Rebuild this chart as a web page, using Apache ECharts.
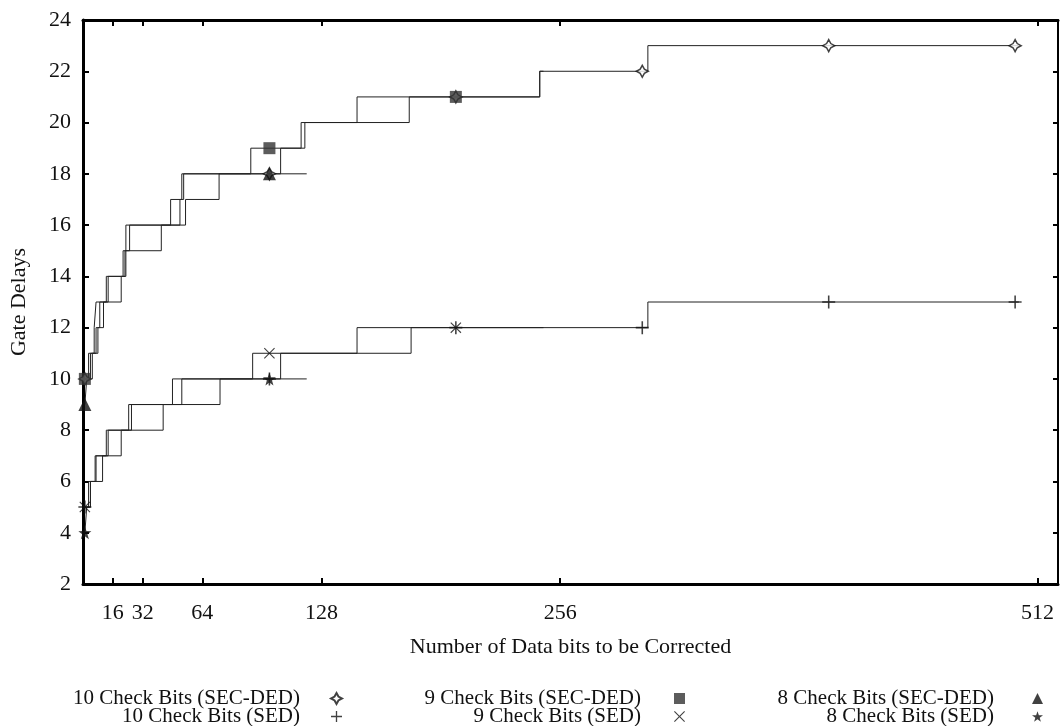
<!DOCTYPE html>
<html>
<head>
<meta charset="utf-8">
<title>Gate Delays</title>
<script src="https://cdn.jsdelivr.net/npm/echarts@6/dist/echarts.min.js"></script>
<style>
  html, body { margin: 0; padding: 0; background: #fff; }
  #myChart { width: 1060px; height: 726px; }
</style>
</head>
<body>
<div id="myChart"></div>
<script>
// step lines: [data bits where the level starts, gate delays]
const sec10Steps = [[1, 10], [5, 11], [8, 12], [11, 13], [20.5, 14], [23, 15], [42, 16], [55, 17], [73, 18], [106, 19], [119, 20], [175, 21], [245, 22], [303, 23], [502, 23]]
const sec9Steps = [[1, 10], [3, 11], [6, 12], [7, 13], [12.5, 14], [21.5, 15], [23, 16], [47, 17], [53, 18], [90, 19], [117, 20], [147, 21], [245, 22], [247, 22]]
const sec8Steps = [[1, 9], [2, 10], [4, 11], [7, 12], [9, 13], [13.5, 14], [22.5, 15], [25, 16], [52, 17], [54, 18], [120, 18]]
const sed10Steps = [[1, 5], [4, 6], [10.5, 7], [20.5, 8], [43, 9], [73.5, 10], [106, 11], [176, 12], [303, 13], [502, 13]]
const sed9Steps = [[1, 5], [3, 6], [6.5, 7], [12.5, 8], [24.5, 9], [48, 10], [91, 11], [147, 12], [247, 12]]
const sed8Steps = [[1, 4], [2, 5], [4, 6], [7, 7], [13.5, 8], [26, 9], [53, 10], [120, 10]]

// markers drawn on the lines
const sec10Marks = [[1, 10], [100, 18], [200, 21], [300, 22], [400, 23], [500, 23]]
const sec9Marks = [[1, 10], [100, 19], [200, 21]]
const sec8Marks = [[1, 9], [100, 18]]
const sed10Marks = [[1, 5], [100, 10], [200, 12], [300, 12], [400, 13], [500, 13]]
const sed9Marks = [[1, 5], [100, 11], [200, 12]]
const sed8Marks = [[1, 4], [100, 10]]

const names = ['10 Check Bits (SEC-DED)', '9 Check Bits (SEC-DED)', '8 Check Bits (SEC-DED)',
  '10 Check Bits (SED)', '9 Check Bits (SED)', '8 Check Bits (SED)']
const xTicks = [16, 32, 64, 128, 256, 512]

const font = 'Liberation Serif'
const diamondPath = 'path://M0,-10 L3.5,-3.5 L10,0 L3.5,3.5 L0,10 L-3.5,3.5 L-10,0 L-3.5,-3.5 Z'
const plusPath = 'path://M-1.2,-10 L1.2,-10 L1.2,-1.2 L10,-1.2 L10,1.2 L1.2,1.2 L1.2,10 L-1.2,10 L-1.2,1.2 L-10,1.2 L-10,-1.2 L-1.2,-1.2 Z'
const crossPath = 'path://M-10,-8.6 L-8.6,-10 L0,-1.4 L8.6,-10 L10,-8.6 L1.4,0 L10,8.6 L8.6,10 L0,1.4 L-8.6,10 L-10,8.6 L-1.4,0 Z'
const starPath = 'path://M0,-10 L2.35,-3.24 L9.51,-3.09 L3.8,1.24 L5.88,8.09 L0,4 L-5.88,8.09 L-3.8,1.24 L-9.51,-3.09 L-2.35,-3.24 Z'

const steps = [sec10Steps, sec9Steps, sec8Steps, sed10Steps, sed9Steps, sed8Steps]
const marks = [sec10Marks, sec9Marks, sec8Marks, sed10Marks, sed9Marks, sed8Marks]
const symbols = [diamondPath, 'rect', 'triangle', plusPath, crossPath, starPath]
const sizes = [12, 12, 13, 13, 11, 13]

let series = []
names.forEach((name, i) => {
  series.push({
    name: name,
    type: 'scatter',
    data: marks[i],
    symbol: symbols[i],
    symbolSize: sizes[i],
    z: i === 0 ? 3 : 4,
    itemStyle: i === 0
      ? { color: '#fff', borderColor: '#111', borderWidth: 1.5 }
      : { color: i === 1 ? '#333' : '#111' }
  })
})
names.forEach((name, i) => {
  series.push({
    name: name,
    type: 'line',
    step: 'end',
    data: steps[i],
    showSymbol: false,
    silent: true,
    z: 2,
    lineStyle: { color: '#222', width: 1 },
    itemStyle: { color: '#111' }
  })
})

// legend columns: text right-aligned, symbol to the right of it
function legendAt (right, gap, items) {
  return {
    orient: 'vertical',
    align: 'right',
    right: right,
    top: 688,
    height: 60,
    padding: 0,
    itemGap: -3,
    itemWidth: 11,
    itemHeight: 11,
    selectedMode: false,
    textStyle: { fontFamily: font, fontSize: 21, color: '#111', lineHeight: 16, padding: [0, gap, 0, 0] },
    data: items.map(i => ({ name: names[i], icon: symbols[i] }))
  }
}

const axisLine = { onZero: false, lineStyle: { color: '#000', width: 3 } }
const tick = { inside: true, length: 6, lineStyle: { color: '#000', width: 2 } }

let options = {
  backgroundColor: '#fff',
  animation: false,
  grid: { left: 83, top: 20, right: 2, bottom: 142 },
  legend: [legendAt(717, 26, [0, 3]), legendAt(375, 28, [1, 4]), legendAt(17, 33, [2, 5])],
  xAxis: [{
    type: 'value',
    position: 'bottom',
    min: 0,
    max: 523,
    name: 'Number of Data bits to be Corrected',
    nameLocation: 'middle',
    nameGap: 52,
    nameTextStyle: { fontFamily: font, fontSize: 22, color: '#111' },
    axisLine: axisLine,
    axisTick: Object.assign({ customValues: xTicks }, tick),
    axisLabel: { customValues: xTicks, margin: 18, fontFamily: font, fontSize: 22, color: '#111' },
    splitLine: { show: false }
  }, {
    type: 'value',
    position: 'top',
    min: 0,
    max: 523,
    axisLine: axisLine,
    axisTick: Object.assign({ customValues: xTicks }, tick),
    axisLabel: { show: false },
    splitLine: { show: false }
  }],
  yAxis: [{
    type: 'value',
    position: 'left',
    min: 2,
    max: 24,
    interval: 2,
    name: 'Gate Delays',
    nameLocation: 'middle',
    nameGap: 53,
    nameTextStyle: { fontFamily: font, fontSize: 22, color: '#111' },
    axisLine: axisLine,
    axisTick: tick,
    axisLabel: { margin: 12, fontFamily: font, fontSize: 22, color: '#111' },
    splitLine: { show: false }
  }, {
    type: 'value',
    position: 'right',
    min: 2,
    max: 24,
    interval: 2,
    axisLine: { onZero: false, lineStyle: { color: '#000', width: 2 } },
    axisTick: { inside: true, length: 5, lineStyle: { color: '#000', width: 2 } },
    axisLabel: { show: false },
    splitLine: { show: false }
  }],
  series: series
}

let myChart = echarts.init(document.getElementById('myChart'))
myChart.setOption(options)
</script>
</body>
</html>
